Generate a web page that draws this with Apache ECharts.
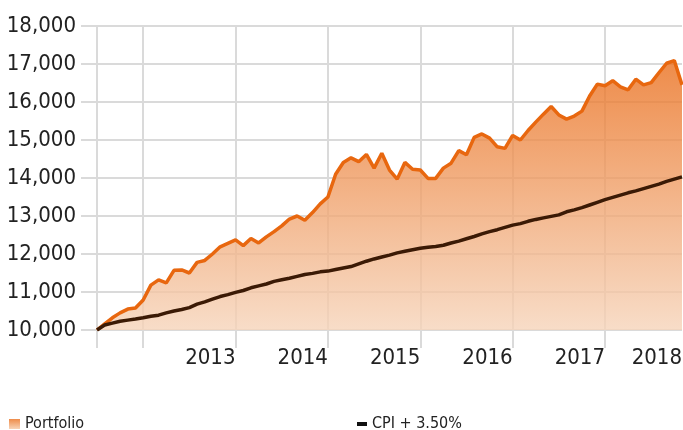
<!DOCTYPE html>
<html>
<head>
<meta charset="utf-8">
<script src="https://cdn.jsdelivr.net/npm/echarts@6/dist/echarts.min.js"></script>
<style>
  html, body { margin: 0; padding: 0; background: #fff; }
  #chart { width: 683px; height: 430px; }
</style>
</head>
<body>
<div id="chart"></div>
<script>
// monthly points, Jun 2012 .. Oct 2018
const months = [
  '2012-06','2012-07','2012-08','2012-09','2012-10','2012-11','2012-12',
  '2013-01','2013-02','2013-03','2013-04','2013-05','2013-06','2013-07','2013-08','2013-09','2013-10','2013-11','2013-12',
  '2014-01','2014-02','2014-03','2014-04','2014-05','2014-06','2014-07','2014-08','2014-09','2014-10','2014-11','2014-12',
  '2015-01','2015-02','2015-03','2015-04','2015-05','2015-06','2015-07','2015-08','2015-09','2015-10','2015-11','2015-12',
  '2016-01','2016-02','2016-03','2016-04','2016-05','2016-06','2016-07','2016-08','2016-09','2016-10','2016-11','2016-12',
  '2017-01','2017-02','2017-03','2017-04','2017-05','2017-06','2017-07','2017-08','2017-09','2017-10','2017-11','2017-12',
  '2018-01','2018-02','2018-03','2018-04','2018-05','2018-06','2018-07','2018-08','2018-09','2018-10'
];

const portfolio = [
  10000, 10160, 10320, 10450, 10550, 10580, 10790,
  11180, 11320, 11240, 11570, 11580, 11500, 11780, 11830, 12000, 12190, 12280, 12370,
  12220, 12410, 12290, 12450, 12590, 12740, 12920, 13000, 12890, 13090, 13320, 13500,
  14100, 14410, 14530, 14430, 14620, 14260, 14650, 14210, 13970, 14410, 14230, 14210,
  13990, 13990, 14260, 14390, 14720, 14610, 15070, 15160, 15050, 14820, 14780, 15120,
  15000, 15250, 15470, 15680, 15880, 15660, 15550, 15630, 15760, 16160, 16470, 16430,
  16560, 16400, 16320, 16600, 16450, 16510, 16770, 17020, 17090, 16450
];

const cpiPlus = [
  10000, 10130, 10180, 10230, 10260, 10290, 10320,
  10360, 10390, 10450, 10500, 10540, 10590, 10680, 10740, 10810, 10880, 10930, 10990,
  11040, 11110, 11160, 11210, 11280, 11320, 11360, 11410, 11460, 11490, 11530, 11550,
  11590, 11630, 11670, 11740, 11810, 11870, 11920, 11970, 12030, 12070, 12110, 12150,
  12180, 12200, 12230, 12290, 12340, 12400, 12460, 12530, 12590, 12640, 12700, 12760,
  12800, 12860, 12910, 12950, 12990, 13030, 13110, 13160, 13220, 13290, 13360, 13430,
  13490, 13550, 13610, 13660, 13720, 13780, 13840, 13910, 13970, 14030
];

// vertical grid lines and year labels (label sits left of its year-end line)
const gridMonths = ['2012-06', '2012-12', '2013-12', '2014-12', '2015-12', '2016-12', '2017-12'];
const labelMonths = ['2013-12', '2014-12', '2015-12', '2016-12', '2017-12', '2018-10'];
const labelTexts = ['2013', '2014', '2015', '2016', '2017', '2018'];

// no narrow face installed, condensed DejaVu is the closest
const FONT = '"DejaVu Sans Condensed", "Liberation Sans Narrow", sans-serif';
const GRID = '#dadada';

const chart = echarts.init(document.getElementById('chart'));

const isGrid = (i) => gridMonths.includes(months[i]);

chart.setOption({
  animation: false,
  grid: { left: 97, right: 1, top: 26, bottom: 100, outerBoundsMode: 'none' },
  legend: [
    {
      left: 9, top: 416, padding: 0,
      itemWidth: 11, itemHeight: 10,
      textStyle: { fontFamily: FONT, fontSize: 16, color: '#222' },
      data: [{
        name: 'Portfolio', icon: 'rect',
        itemStyle: {
          color: new echarts.graphic.LinearGradient(0, 0, 0, 1, [
            { offset: 0, color: '#ee8c4a' }, { offset: 1, color: '#f8d3b6' },
          ]),
        },
      }],
    },
    {
      left: 357, top: 416, padding: 0,
      itemWidth: 10, itemHeight: 4,
      textStyle: { fontFamily: FONT, fontSize: 16, color: '#222' },
      data: [{ name: 'CPI + 3.50%', icon: 'rect', itemStyle: { color: '#111' } }],
    },
  ],
  xAxis: {
    type: 'category',
    data: months,
    boundaryGap: false,
    axisLine: { show: false },
    axisTick: { show: true, interval: isGrid, length: 18, lineStyle: { color: GRID, width: 2 } },
    splitLine: { show: true, interval: isGrid, lineStyle: { color: GRID, width: 2 } },
    axisLabel: {
      interval: (i) => labelMonths.includes(months[i]),
      formatter: (v) => labelTexts[labelMonths.indexOf(v)],
      align: 'right',
      margin: 17,
      fontFamily: FONT, fontSize: 22, color: '#222',
    },
  },
  yAxis: {
    type: 'value',
    min: 10000, max: 18000, interval: 1000,
    axisLine: { show: false },
    axisTick: { show: true, length: 16, lineStyle: { color: GRID, width: 2 } },
    splitLine: { show: true, lineStyle: { color: GRID, width: 2 } },
    axisLabel: {
      margin: 21,
      fontFamily: FONT, fontSize: 22, color: '#222',
      formatter: (v) => v.toLocaleString('en-US'),
    },
  },
  series: [
    {
      name: 'Portfolio',
      type: 'line',
      data: portfolio,
      showSymbol: false,
      lineStyle: { color: '#e8670f', width: 3.5 },
      itemStyle: { color: '#e8670f' },
      areaStyle: {
        opacity: 1,
        color: new echarts.graphic.LinearGradient(0, 0, 0, 1, [
          { offset: 0, color: 'rgba(234,111,29,0.8)' },
          { offset: 1, color: 'rgba(246,212,186,0.8)' },
        ]),
      },
    },
    {
      name: 'CPI + 3.50%',
      type: 'line',
      data: cpiPlus,
      showSymbol: false,
      lineStyle: { color: '#3b1a05', width: 3.5 },
      itemStyle: { color: '#3b1a05' },
    },
  ],
});
</script>
</body>
</html>
